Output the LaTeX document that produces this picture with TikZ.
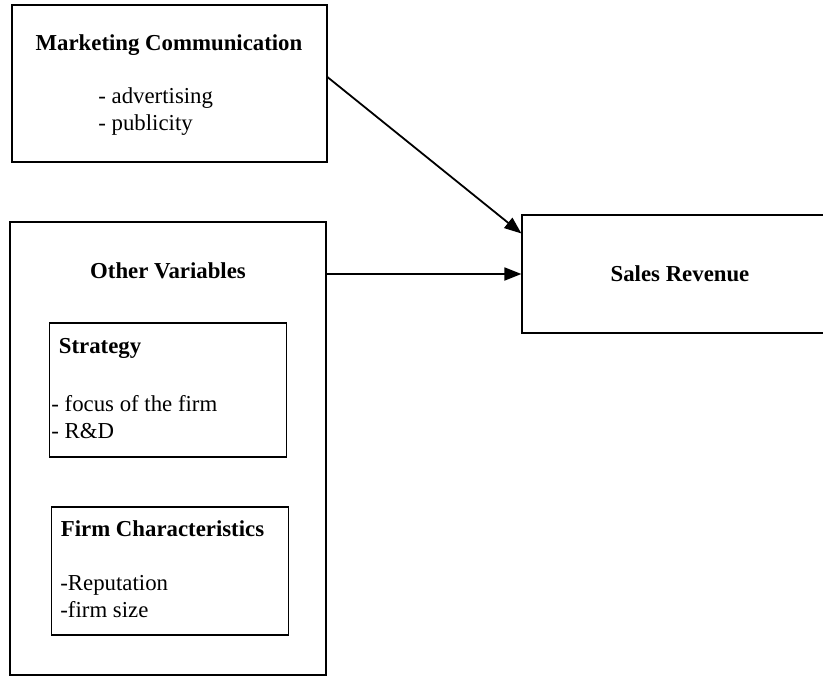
\documentclass[tikz,border=0pt]{standalone}
\usepackage{fontspec}
\setmainfont{Liberation Serif}
\usetikzlibrary{arrows.meta, calc}

\begin{document}
\begin{tikzpicture}[x=0.5pt,y=-0.5pt,
  box/.style={draw,line width=0.6pt,inner sep=0pt},
  head/.style={font=\fontsize{11.4}{13.5}\selectfont\bfseries,anchor=base,inner sep=0pt},
  items/.style={font=\fontsize{11.4}{13.5}\selectfont,align=left,anchor=base west,inner sep=0pt},
  link/.style={-{Triangle[length=8.5pt,width=6.5pt]},line width=0.9pt}]
\useasboundingbox (0,0) rectangle (823,676);
% boxes
\node[box,minimum width=157.5pt,minimum height=78.5pt] (mc) at (169.5,83.5) {};
\node[box,minimum width=158pt,minimum height=226.5pt] (ov) at (168,448.5) {};
\node[box,minimum width=118.5pt,minimum height=67pt] (st) at (168,390) {};
\node[box,minimum width=118.5pt,minimum height=64pt] (fc) at (170,571) {};
\node[box,minimum width=158pt,minimum height=59pt] (sr) at (680,274) {};
% texts (items: anchor on the last line)
\node[head] (mchead) at (169,50) {Marketing Communication};
\node[items] (mcitems) at (98,130) {- advertising\\- publicity};
\node[head] (ovhead) at (168,278) {Other Variables};
\node[head,anchor=base west] (sthead) at (58.5,353) {Strategy};
\node[items] (stitems) at (51,438.5) {- focus of the firm\\- R\&D};
\node[head,anchor=base west] (fchead) at (60.5,536) {Firm Characteristics};
\node[items] (fcitems) at (60,617.5) {-Reputation\\-firm size};
\node[head] (srhead) at (680,281) {Sales Revenue};
% arrows
\draw[link] ($(mc.north east)!0.46!(mc.south east)$) -- ($(sr.north west)!0.16!(sr.south west)$);
\draw[link] (ov.east |- sr.west) -- (sr.west);
\end{tikzpicture}
\end{document}
